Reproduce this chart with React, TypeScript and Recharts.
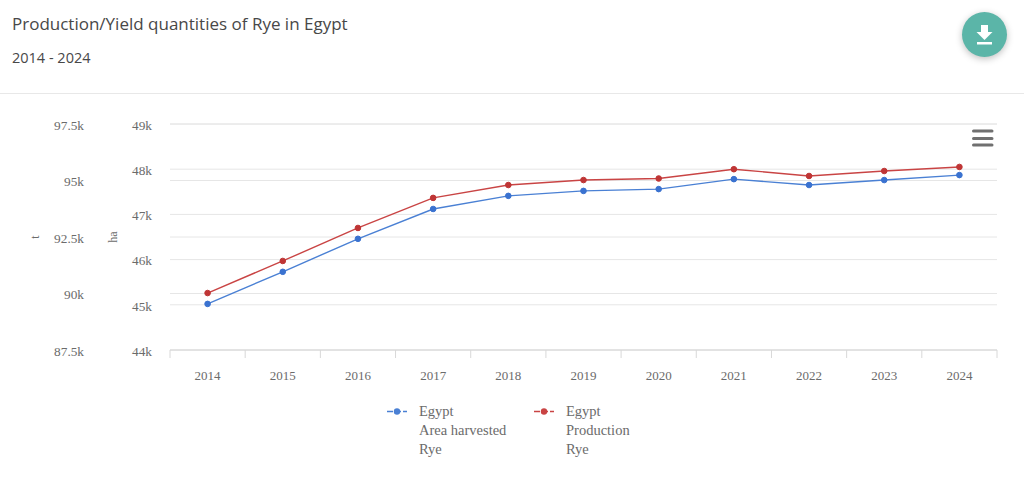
import { LineChart, Line, XAxis, YAxis, CartesianGrid, Legend } from 'recharts'

const years = ['2014', '2015', '2016', '2017', '2018', '2019', '2020', '2021', '2022', '2023', '2024']
const areaHarvested = [45020, 45730, 46460, 47120, 47410, 47520, 47560, 47780, 47650, 47760, 47870]
const production = [90020, 91440, 92900, 94230, 94800, 95020, 95090, 95500, 95200, 95420, 95600]
const haTicks = [44000, 45000, 46000, 47000, 48000, 49000]
const tTicks = [87500, 90000, 92500, 95000, 97500]

const BLUE = '#4a80d4'
const RED = '#c94444'
const LABEL = '#6b6b6b'
const GRID = '#e6e6e6'
const SERIF = "'Liberation Serif', serif"
const BAND = 827 / 11

const data = years.map((year, i) => ({ year, area: areaHarvested[i], production: production[i] }))
const legendItems = [
    { color: BLUE, lines: ['Egypt', 'Area harvested', 'Rye'], width: 147 },
    { color: RED, lines: ['Egypt', 'Production', 'Rye'], width: 100 },
]

const formatK = (val: number) => `${val / 1000}k`

function YearTick({ x, y, payload, index }: any) {
    const isLast = index === years.length - 1
    return (
        <g>
            <line x1={x - BAND / 2} x2={x - BAND / 2} y1={y - 8} y2={y} stroke="#d8d8d8" />
            {isLast && <line x1={x + BAND / 2} x2={x + BAND / 2} y1={y - 8} y2={y} stroke="#d8d8d8" />}
            <text x={x} y={y + 22} textAnchor="middle" fill={LABEL} fontSize={13} fontFamily={SERIF}>
                {payload.value}
            </text>
        </g>
    )
}

function SeriesLegend() {
    return (
        <div style={{ display: 'flex', fontFamily: SERIF, fontSize: 14.5, lineHeight: '19px', color: LABEL, height: 57 }}>
            {legendItems.map((item) => (
                <div key={item.lines[1]} style={{ display: 'flex', width: item.width }}>
                    <svg width={32} height={19} style={{ flex: 'none' }}>
                        <line x1={0} x2={20} y1={9.5} y2={9.5} stroke={item.color} strokeWidth={1.5} strokeDasharray="6 2" />
                        <circle cx={10} cy={9.5} r={3.2} fill={item.color} />
                    </svg>
                    <div>
                        {item.lines.map((line) => (
                            <div key={line}>{line}</div>
                        ))}
                    </div>
                </div>
            ))}
        </div>
    )
}

export default function App() {
    return (
        <div style={{ position: 'absolute', left: 0, top: 0, width: 1024, height: 477, background: '#fff', overflow: 'hidden' }}>
            <div style={{ position: 'absolute', left: 12, top: 12, fontFamily: "'Open Sans', sans-serif", fontSize: 17, lineHeight: '24px', color: '#484848' }}>
                Production/Yield quantities of Rye in Egypt
            </div>
            <div style={{ position: 'absolute', left: 12, top: 48, fontFamily: "'Open Sans', sans-serif", fontSize: 14.5, lineHeight: '20px', color: '#484848' }}>
                2014 - 2024
            </div>
            <div style={{ position: 'absolute', left: 0, top: 93, width: 1024, height: 1, background: '#e8e8e8' }} />

            <LineChart width={1024} height={477} data={data} margin={{ top: 124, right: 27, left: 0, bottom: 18 }}>
                <CartesianGrid yAxisId="ha" xAxisId={0} vertical={false} stroke={GRID} />
                <CartesianGrid yAxisId="t" xAxisId={0} vertical={false} stroke={GRID} />
                <XAxis
                    dataKey="year"
                    scale="band"
                    interval={0}
                    height={52}
                    stroke="#d8d8d8"
                    tickLine={false}
                    tick={<YearTick />}
                />
                <YAxis
                    yAxisId="ha"
                    width={70}
                    domain={[44000, 49000]}
                    ticks={haTicks}
                    interval={0}
                    axisLine={false}
                    tickLine={false}
                    tickMargin={12}
                    tickFormatter={formatK}
                    tick={{ fill: LABEL, fontSize: 13.3, fontFamily: SERIF, dy: 1 }}
                    label={{ value: 'ha', angle: -90, position: 'insideLeft', offset: 13, fill: LABEL, fontSize: 12, fontFamily: SERIF, textAnchor: 'middle' }}
                />
                <YAxis
                    yAxisId="t"
                    width={100}
                    domain={[87500, 97500]}
                    ticks={tTicks}
                    interval={0}
                    axisLine={false}
                    tickLine={false}
                    tickMargin={10}
                    tickFormatter={formatK}
                    tick={{ fill: LABEL, fontSize: 13.3, fontFamily: SERIF, dy: 1 }}
                    label={{ value: 't', angle: -90, position: 'insideLeft', offset: 35, fill: LABEL, fontSize: 12, fontFamily: SERIF, textAnchor: 'middle' }}
                />
                <Line
                    yAxisId="ha"
                    dataKey="area"
                    stroke={BLUE}
                    strokeWidth={1.4}
                    dot={{ r: 2.8, fill: '#3a72d0', stroke: '#3a72d0', strokeWidth: 1 }}
                    isAnimationActive={false}
                />
                <Line
                    yAxisId="t"
                    dataKey="production"
                    stroke={RED}
                    strokeWidth={1.4}
                    dot={{ r: 2.8, fill: '#bf3535', stroke: '#bf3535', strokeWidth: 1 }}
                    isAnimationActive={false}
                />
                <Legend content={<SeriesLegend />} verticalAlign="bottom" wrapperStyle={{ left: 387, width: 260 }} />
            </LineChart>

            {/* chart menu */}
            <svg style={{ position: 'absolute', left: 968, top: 126 }} width={28} height={24}>
                <path d="M5.5 5H24M5.5 12.5H24M5.5 19H24" stroke="#707070" strokeWidth={3} strokeLinecap="round" fill="none" />
            </svg>

            {/* download button */}
            <div
                style={{
                    position: 'absolute',
                    left: 962,
                    top: 12,
                    width: 45,
                    height: 45,
                    borderRadius: '50%',
                    background: '#5bb5a8',
                    boxShadow: '0 2px 7px rgba(0,0,0,0.25)',
                }}
            >
                <svg width={45} height={45}>
                    <path d="M19 13H26V20H30.5L22.5 28L14.5 20H19Z" fill="#fff" />
                    <rect x={15} y={30} width={15} height={2.5} fill="#fff" />
                </svg>
            </div>
        </div>
    )
}
